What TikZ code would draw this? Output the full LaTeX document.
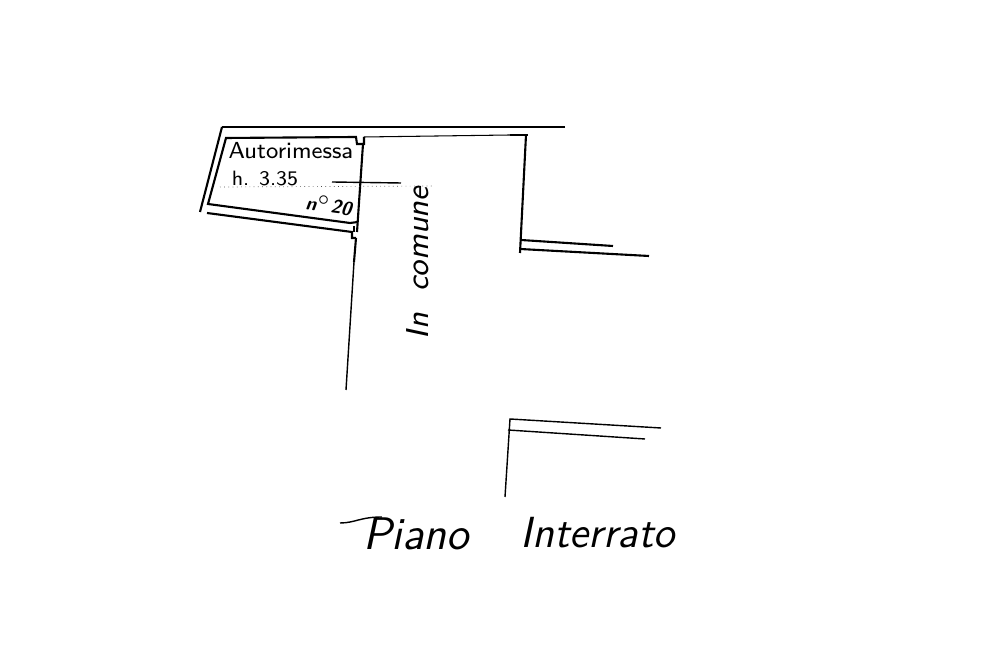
\documentclass[tikz,border=0pt]{standalone}
\usepackage{tikz}
\usetikzlibrary{calc}
\tikzset{
wallthick/.style={black, line width=.6pt},
wallthin/.style={black, line width=.4pt},
hand/.style={inner sep=0pt, font=\sffamily\slshape},
}

\begin{document}
\begin{tikzpicture} [x=.1mm, y=-.1mm]
\useasboundingbox (0,0) rectangle (1000,664);

% outer wall
\draw[wallthin] (565,127) -- (222,127);
\draw[wallthick] (222,127) -- (200,212);

% autorimessa
\draw[wallthick] (364,137) -- (364,144) -- (357,144) -- (356,137) -- (226,138) -- (208,204) -- (350,223) -- (358,222);
\draw[wallthick] (207,213) -- (352,232) -- (352,238) -- (356,238);
\draw[wallthin] (354,226) -- (354,232);

% corridor
\draw[wallthin, line width=.3pt] (364,137) -- (510,135);
\draw[wallthick] (510,135) -- (528,135);
\draw[wallthick] (363,144) -- (357,232);
\draw[wallthick] (356,238) -- (354,262);
\draw[wallthin] (354,262) -- (346,390);

\draw[wallthick] (526,135) -- (520,253);
\draw[wallthick] (521,240) -- (613,246);
\draw[wallthick] (520,249) -- (649,256);

\draw[wallthin] (661,428) -- (510,419) -- (505,497);
\draw[wallthin] (508,430) -- (645,439);

% height line
\draw[black!70, densely dotted, line width=.2pt] (220,187) -- (435,186);
\draw[wallthin] (332,182) -- (401,183);

% stroke over the P
\draw[wallthin] (340,523) .. controls (355,523) and (360,517) .. (382,517);

\node[hand, font=\sffamily\fontsize{6.6}{8}\selectfont] (autorimessa) at (291,151) {Autorimessa};
\node[hand, font=\sffamily\fontsize{5.9}{8}\selectfont] (altezza) at (265,179) {h. 3.35};
\node[hand, font=\sffamily\bfseries\slshape\fontsize{5.4}{8}\selectfont, rotate=-8] (numero) at (329,205) {n$^{\circ}$20};
\node[hand, font=\sffamily\slshape\fontsize{9}{10}\selectfont, rotate=90] (comune) at (418,263) {In\ \ comune};
\node[hand, font=\sffamily\slshape\fontsize{13}{15}\selectfont] (piano) at (416,534) {Piano};
\node[hand, font=\sffamily\slshape\fontsize{12.4}{15}\selectfont] (interrato) at (598,533) {Interrato};

\end{tikzpicture}
\end{document}
